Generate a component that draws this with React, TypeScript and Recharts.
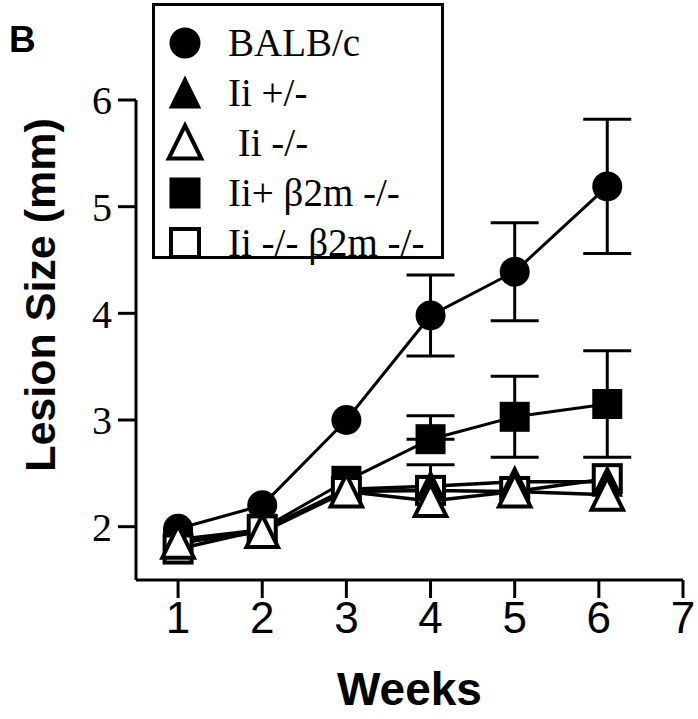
import React from 'react';
import { LineChart, Line, XAxis, YAxis, ErrorBar } from 'recharts';

const weeks = [1, 2, 3, 4, 5, 6.1];

const balb = [1.98, 2.2, 3.0, 3.98, 4.39, 5.19];
const balbErr = [null, null, null, 0.38, 0.46, 0.63];

const iiHet = [1.88, 1.97, 2.35, 2.38, 2.42, 2.42];
const iiKo = [1.85, 1.95, 2.33, 2.24, 2.33, 2.3];

const iiB2m = [1.84, 1.98, 2.43, 2.82, 3.03, 3.15];
const iiB2mErr = [null, null, null, [0, 0.22], 0.38, 0.5];

const dko = [1.79, 1.97, 2.33, 2.34, 2.33, 2.45];
const dkoErr = [null, null, null, [0, 0.24], null, null];

const xTicks = [1, 2, 3, 4, 5, 6, 7];
const yTicks = [2, 3, 4, 5, 6];

const legendItems = [
  { label: 'BALB/c', shape: 'circle', filled: true },
  { label: 'Ii +/-', shape: 'triangle', filled: true },
  { label: ' Ii -/-', shape: 'triangle', filled: false },
  { label: 'Ii+ \u03b22m -/-', shape: 'square', filled: true },
  { label: 'Ii -/- \u03b22m -/-', shape: 'square', filled: false },
];

const data = weeks.map((w, i) => ({
  week: w,
  balb: balb[i],
  balbErr: balbErr[i],
  iiHet: iiHet[i],
  iiKo: iiKo[i],
  iiB2m: iiB2m[i],
  iiB2mErr: iiB2mErr[i],
  dko: dko[i],
  dkoErr: dkoErr[i],
}));

const SERIF = '"Liberation Serif", "Times New Roman", serif';
const SANS = '"Liberation Sans", Arial, Helvetica, sans-serif';

function Marker({ shape, filled, cx, cy, size }: any) {
  const fill = filled ? '#000' : '#fff';
  if (shape === 'circle') {
    return <circle cx={cx} cy={cy} r={size / 2} fill="#000" />;
  }
  if (shape === 'square') {
    const s = filled ? size : size - 3;
    return (
      <rect x={cx - s / 2} y={cy - s / 2} width={s} height={s} fill={fill} stroke="#000" strokeWidth={filled ? 0 : 4} />
    );
  }
  const h = size;
  const w = size * 1.05;
  const pts = `${cx},${cy - h / 2 - 2} ${cx + w / 2},${cy + h / 2} ${cx - w / 2},${cy + h / 2}`;
  return <polygon points={pts} fill={fill} stroke="#000" strokeWidth={filled ? 0 : 4} />;
}

const makeDot = (shape: string, filled: boolean) => (props: any) => {
  const { cx, cy, index } = props;
  return <Marker key={index} shape={shape} filled={filled} cx={cx} cy={cy} size={30} />;
};

function LegendBox() {
  return (
    <div
      style={{
        position: 'absolute',
        left: 152,
        top: 3,
        width: 286,
        height: 250,
        border: '3px solid #000',
        background: '#fff',
      }}
    >
      <svg width={286} height={250} style={{ overflow: 'visible' }}>
        {legendItems.map((it, i) => {
          const y = 37 + i * 50;
          return (
            <g key={it.label}>
              <Marker shape={it.shape} filled={it.filled} cx={30} cy={y} size={31} />
              <text x={73} y={y + 13} fontFamily={SERIF} fontSize={39} fill="#000" style={{ whiteSpace: 'pre' }}>
                {it.label}
              </text>
            </g>
          );
        })}
      </svg>
    </div>
  );
}

export default function App() {
  return (
    <div style={{ position: 'absolute', left: 0, top: 0, width: 698, height: 719, background: '#fff' }}>
      <LineChart
        width={698}
        height={719}
        data={data}
        margin={{ top: 100, right: 15, left: 0, bottom: 0 }}
      >
        <XAxis
          dataKey="week"
          type="number"
          domain={[0.5, 7]}
          ticks={xTicks}
          height={139}
          tickSize={18}
          tickMargin={4}
          axisLine={{ stroke: '#000', strokeWidth: 3 }}
          tickLine={{ stroke: '#000', strokeWidth: 3 }}
          tick={{ fill: '#000', fontSize: 44, fontFamily: SANS }}
          label={{
            value: 'Weeks',
            position: 'insideBottom',
            offset: 14,
            fill: '#000',
            fontSize: 46,
            fontWeight: 'bold',
            fontFamily: SANS,
          }}
        />
        <YAxis
          type="number"
          domain={[1.5, 6]}
          ticks={yTicks}
          width={136}
          tickSize={18}
          tickMargin={6}
          axisLine={{ stroke: '#000', strokeWidth: 3 }}
          tickLine={{ stroke: '#000', strokeWidth: 3 }}
          tick={{ fill: '#000', fontSize: 40, fontFamily: SERIF }}
        />
        <Line
          dataKey="balb"
          stroke="#000"
          strokeWidth={3}
          dot={makeDot('circle', true)}
          isAnimationActive={false}
        >
          <ErrorBar dataKey="balbErr" width={24} strokeWidth={3} stroke="#000" direction="y" />
        </Line>
        <Line
          dataKey="iiB2m"
          stroke="#000"
          strokeWidth={3}
          dot={makeDot('square', true)}
          isAnimationActive={false}
        >
          <ErrorBar dataKey="iiB2mErr" width={24} strokeWidth={3} stroke="#000" direction="y" />
        </Line>
        <Line
          dataKey="dko"
          stroke="#000"
          strokeWidth={3.5}
          dot={makeDot('square', false)}
          isAnimationActive={false}
        >
          <ErrorBar dataKey="dkoErr" width={24} strokeWidth={3} stroke="#000" direction="y" />
        </Line>
        <Line
          dataKey="iiHet"
          stroke="#000"
          strokeWidth={3.5}
          dot={makeDot('triangle', true)}
          isAnimationActive={false}
        />
        <Line
          dataKey="iiKo"
          stroke="#000"
          strokeWidth={3.5}
          dot={makeDot('triangle', false)}
          isAnimationActive={false}
        />
      </LineChart>
      <svg width={698} height={719} style={{ position: 'absolute', left: 0, top: 0, pointerEvents: 'none' }}>
        <text x={9} y={52} fontFamily={SANS} fontWeight="bold" fontSize={37} fill="#000">
          B
        </text>
        <text
          x={40}
          y={295}
          transform="rotate(-90 40 295)"
          textAnchor="middle"
          dominantBaseline="central"
          fontFamily={SANS}
          fontWeight="bold"
          fontSize={43}
          fill="#000"
        >
          Lesion Size (mm)
        </text>
      </svg>
      <LegendBox />
    </div>
  );
}
